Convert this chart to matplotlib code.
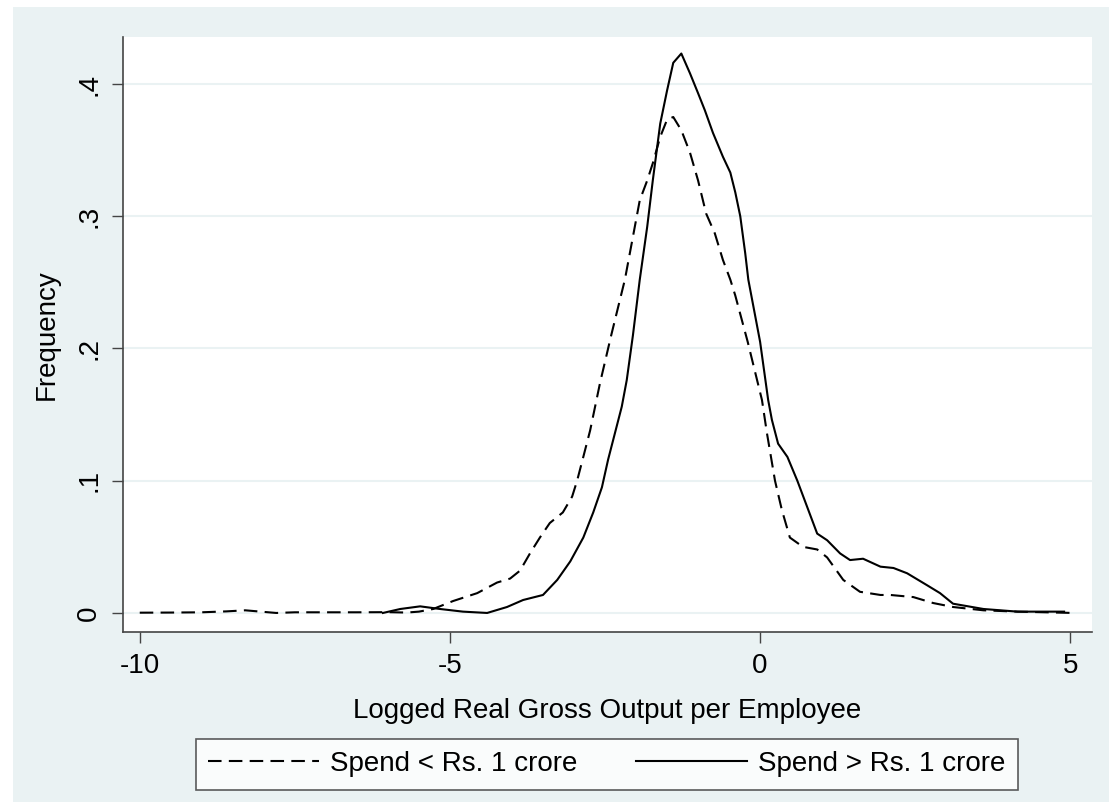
import numpy as np
import matplotlib
matplotlib.use("Agg")
import matplotlib.pyplot as plt
from matplotlib.patches import Rectangle

plt.rcParams["font.family"] = ["Liberation Sans", "DejaVu Sans"]

# Density estimates
x_small = [-10.0, -9.5, -9.0, -8.6, -8.3, -8.0, -7.8, -7.5, -7.0, -6.5, -6.0,
           -5.7, -5.5, -5.27, -4.95, -4.56, -4.24, -4.03, -3.87, -3.71, -3.55,
           -3.39, -3.18, -3.03, -2.95, -2.85, -2.74, -2.66, -2.58, -2.4, -2.18,
           -2.1, -2.02, -1.94, -1.82, -1.73, -1.61, -1.5, -1.4, -1.27, -1.13,
           -1.0, -0.87, -0.73, -0.6, -0.48, -0.4, -0.2, 0.03, 0.11, 0.24, 0.35,
           0.48, 0.69, 0.92, 1.08, 1.34, 1.61, 1.94, 2.10, 2.47, 2.79, 3.11,
           3.6, 4.15, 5.05]
y_small = [0.0002, 0.0003, 0.0005, 0.0012, 0.002, 0.0008, 0.0, 0.0005, 0.0005,
           0.0005, 0.0006, 0.0003, 0.001, 0.003, 0.009, 0.015, 0.023, 0.026,
           0.032, 0.045, 0.057, 0.068, 0.076, 0.088, 0.10, 0.118, 0.138, 0.156,
           0.174, 0.21, 0.252, 0.272, 0.292, 0.312, 0.327, 0.34, 0.36, 0.373,
           0.375, 0.365, 0.348, 0.327, 0.302, 0.287, 0.267, 0.252, 0.24, 0.205,
           0.161, 0.136, 0.10, 0.078, 0.057, 0.05, 0.048, 0.042, 0.025, 0.016,
           0.0136, 0.0136, 0.012, 0.0075, 0.0045, 0.002, 0.001, 0.0]

x_large = [-6.08, -5.8, -5.48, -5.16, -4.79, -4.4, -4.08, -3.82, -3.5, -3.27,
           -3.06, -2.85, -2.69, -2.55, -2.45, -2.34, -2.23, -2.15, -2.05, -1.94,
           -1.82, -1.73, -1.61, -1.5, -1.40, -1.27, -1.13, -1.0, -0.89, -0.76,
           -0.6, -0.48, -0.40, -0.32, -0.24, -0.19, 0.0, 0.13, 0.19, 0.29,
           0.44, 0.6, 0.76, 0.92, 1.08, 1.29, 1.45, 1.66, 1.94, 2.15, 2.37,
           2.69, 2.9, 3.11, 3.6, 4.15, 4.9]
y_large = [0.0, 0.003, 0.005, 0.003, 0.001, 0.0, 0.0045, 0.0098, 0.0136, 0.025,
           0.039, 0.057, 0.076, 0.095, 0.116, 0.136, 0.156, 0.176, 0.21, 0.252,
           0.292, 0.327, 0.37, 0.395, 0.416, 0.423, 0.408, 0.393, 0.38, 0.363,
           0.345, 0.333, 0.318, 0.30, 0.272, 0.252, 0.205, 0.161, 0.146, 0.128,
           0.118, 0.10, 0.08, 0.06, 0.055, 0.045, 0.040, 0.041, 0.035, 0.034,
           0.030, 0.021, 0.015, 0.007, 0.003, 0.001, 0.001]

labels = ["Spend < Rs. 1 crore", "Spend > Rs. 1 crore"]
x_ticks = [-10, -5, 0, 5]
y_ticks = [0, 0.1, 0.2, 0.3, 0.4]
y_tick_labels = ["0", ".1", ".2", ".3", ".4"]

bg = "#EAF2F3"
fig = plt.figure(figsize=(11.09, 8.02), dpi=100, facecolor="white")
fig.patches.append(Rectangle((13 / 1109, 0), 1, 1 - 7 / 802,
                             transform=fig.transFigure, facecolor=bg,
                             edgecolor="none", zorder=-10))

ax = fig.add_axes([123 / 1109, 1 - 632 / 802, (1092 - 123) / 1109,
                   (632 - 37) / 802])
ax.set_facecolor("white")

ax.plot(x_small, y_small, color="black", lw=1.5, ls=(0, (6.5, 3.5)),
        label=labels[0])
ax.plot(x_large, y_large, color="black", lw=1.5, ls="-", label=labels[1])

ax.set_xlim(-10.27, 5.35)
ax.set_ylim(-0.0144, 0.4355)
ax.set_xticks(x_ticks)
ax.set_xticklabels([str(t) for t in x_ticks])
ax.set_yticks(y_ticks)
ax.set_yticklabels(y_tick_labels, rotation=90, va="center")
for t in y_ticks:
    ax.axhline(t, color=bg, lw=1.5, zorder=0)

for side in ["top", "right"]:
    ax.spines[side].set_visible(False)
for side in ["left", "bottom"]:
    ax.spines[side].set_color("#444444")
    ax.spines[side].set_linewidth(1.2)
ax.tick_params(direction="out", length=8, width=1.0, color="#444444",
               labelsize=20, pad=7)

ax.set_xlabel("Logged Real Gross Output per Employee", fontsize=20, labelpad=14)
ax.set_ylabel("Frequency", fontsize=20, labelpad=12)

leg = fig.legend(loc="center", bbox_to_anchor=(607 / 1109, 1 - 764 / 802),
                 ncol=2, fontsize=20, frameon=True, fancybox=False,
                 handlelength=4, handletextpad=0.4, columnspacing=2.1,
                 borderpad=0.45, borderaxespad=0)
leg.get_frame().set_edgecolor("#333333")
leg.get_frame().set_linewidth(1.2)
leg.get_frame().set_facecolor("white")

fig.savefig("out.png", dpi=100, facecolor=fig.get_facecolor())
